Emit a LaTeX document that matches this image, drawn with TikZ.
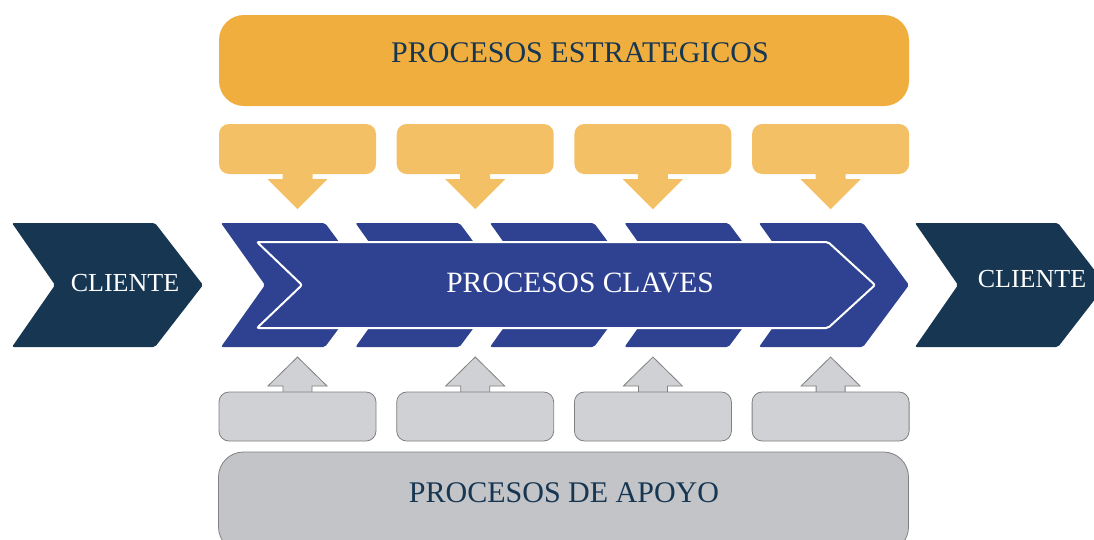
\documentclass[tikz,border=0pt]{standalone}
\usepackage{fontspec}
\setmainfont{Liberation Serif}

\definecolor{estrat}{RGB}{240,174,62}
\definecolor{estratlight}{RGB}{244,192,102}
\definecolor{clave}{RGB}{46,66,145}
\definecolor{cliente}{RGB}{23,54,82}
\definecolor{apoyo}{RGB}{194,196,200}
\definecolor{apoyolight}{RGB}{208,209,212}
\definecolor{apoyoline}{RGB}{128,128,128}

\tikzset{
  bigbox/.style={rectangle, rounded corners=25pt, minimum width=690pt, inner sep=0pt},
  smallbox/.style={rectangle, rounded corners=10pt, minimum width=157pt, inner sep=0pt},
  darktext/.style={text=cliente, font=\fontsize{30}{30}\selectfont},
  lighttext/.style={text=white, font=\fontsize{29.5}{30}\selectfont},
  clientetext/.style={text=white, font=\fontsize{26}{26}\selectfont}
}

\begin{document}
\begin{tikzpicture}[x=1pt,y=-1pt]
\useasboundingbox (0,0) rectangle (1094,539);
\clip (0,0) rectangle (1094,539);

% procesos estrategicos
\node (est) [bigbox, fill=estrat, minimum height=91pt] at (564,60.5) {};
\node (esttxt) [darktext] at (580,53) {PROCESOS ESTRATEGICOS};
\foreach \i in {1,...,4} {
  \node (so\i) [smallbox, fill=estratlight, minimum height=50pt] at (297.5+177.7*\i-177.7,149) {};
  \fill[estratlight] (so\i.south) ++(-15,-1) -- ++(0,6) -- ++(-15,0)
    -- ++(30,30) -- ++(30,-30) -- ++(-15,0) -- ++(0,-6) -- cycle;
}

% procesos claves
\foreach \i in {0,...,4}
  \fill[clave, rounded corners=2pt] (221+134.5*\i,223) -- ++(104,0) -- ++(46,62)
    -- ++(-46,62) -- ++(-104,0) -- ++(44,-62) -- cycle;
\draw[fill=clave, draw=white, line width=2pt, rounded corners=2pt]
  (257,242) -- (828,242) -- (875,285) -- (828,328) -- (257,328) -- (302,285) -- cycle;
\node (clv) [lighttext] at (580,283) {PROCESOS CLAVES};

% clientes
\fill[cliente, rounded corners=2pt] (12,223) -- ++(143,0) -- ++(48,62)
  -- ++(-48,62) -- ++(-143,0) -- ++(43,-62) -- cycle;
\node (cli1) [clientetext] at (125,283) {CLIENTE};
\fill[cliente, rounded corners=2pt] (915,223) -- ++(143,0) -- ++(48,62)
  -- ++(-48,62) -- ++(-143,0) -- ++(43,-62) -- cycle;
\node (cli2) [clientetext] at (1032,279) {CLIENTE};

% procesos de apoyo
\foreach \i in {1,...,4} {
  \draw[fill=apoyolight, draw=apoyoline, line width=.8pt] (297.5+177.7*\i-177.7,392)
    ++(-14.5,0) -- ++(0,-6) -- ++(-15,0) -- ++(29.5,-29) -- ++(29.5,29) -- ++(-15,0) -- ++(0,6);
  \node (su\i) [smallbox, fill=apoyolight, draw=apoyoline, line width=.8pt,
    minimum height=49pt] at (297.5+177.7*\i-177.7,416.5) {};
}
\node (apo) [bigbox, fill=apoyo, draw=apoyoline, line width=.8pt, minimum height=100pt]
  at (563.5,502) {};
\node (apotxt) [darktext] at (564,493) {PROCESOS DE APOYO};
\end{tikzpicture}
\end{document}
